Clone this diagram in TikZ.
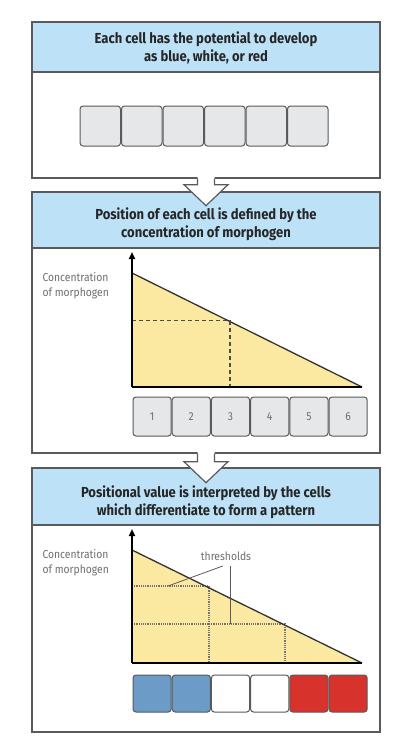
\documentclass[tikz,border=0pt]{standalone}
\usepackage{fontspec}
\setmainfont{Fira Sans}
\newfontfamily\titlefont[FakeStretch=0.9]{Fira Sans}
\newfontfamily\notefont[FakeStretch=0.9]{Fira Sans}
\usetikzlibrary{arrows.meta, positioning, calc}
\definecolor{PanelGray}{HTML}{5A5A5A}
\definecolor{HeadBlue}{HTML}{BDE1F6}
\definecolor{GradYellow}{HTML}{FBE9A2}
\definecolor{CellGray}{HTML}{E6E7E9}
\definecolor{CellBlue}{HTML}{6B9BC6}
\definecolor{CellRed}{HTML}{D8322C}
\definecolor{TextGray}{HTML}{6E6E6E}
\tikzset{
    % Panel styles
    panelbox/.style={
        rectangle,
        draw=PanelGray,
        fill=white,
        line width=1.4pt,
        minimum width=348,
        inner sep=0pt
    },
    header/.style={
        rectangle,
        draw=PanelGray,
        fill=HeadBlue,
        line width=1.4pt,
        minimum width=348,
        inner sep=0pt
    },
    title/.style={
        align=center,
        text=black!85,
        font=\titlefont\bfseries\fontsize{14.5}{18}\selectfont
    },
    % Cell styles
    cellbox/.style={
        rectangle,
        rounded corners=3pt,
        draw=PanelGray,
        fill=CellGray,
        line width=1pt,
        inner sep=0pt,
        text=TextGray,
        font=\notefont\fontsize{11.5}{12}\selectfont
    },
    axislabel/.style={
        align=left,
        text=TextGray,
        font=\notefont\fontsize{11.5}{15}\selectfont
    },
    % Line styles
    axis/.style={
        line width=1.8pt,
        draw=black
    },
    slope/.style={
        line width=1.3pt,
        draw=black!80
    },
    guide/.style={
        line width=1.1pt,
        draw=black!70,
        dash pattern=on 4pt off 3pt
    },
    dotguide/.style={
        line width=1.1pt,
        draw=black!55,
        dash pattern=on 1.2pt off 1pt
    },
    leader/.style={
        line width=0.8pt,
        draw=PanelGray
    },
    blockarrow/.style={
        line width=1.2pt,
        draw=PanelGray,
        line join=miter
    }
}

\begin{document}
\begin{tikzpicture}[x=1pt, y=-1pt]
    \useasboundingbox (0,0) rectangle (400,750);

    % Panel 1
    \node[panelbox, minimum height=106] (b1) at (206,125) {};
    \node[header, minimum height=50] (h1) at (206,47) {};
    \node[title] (t1) at (206,48) {Each cell has the potential to develop\\as blue, white, or red};

    \node[cellbox, fill=CellGray, minimum width=40.5, minimum height=40] (a1) at (100.25,126) {};
    \node[cellbox, minimum width=40.5, minimum height=40, right=0pt of a1] (a2) {};
    \node[cellbox, minimum width=40.5, minimum height=40, right=0pt of a2] (a3) {};
    \node[cellbox, minimum width=40.5, minimum height=40, right=0pt of a3] (a4) {};
    \node[cellbox, minimum width=40.5, minimum height=40, right=0pt of a4] (a5) {};
    \node[cellbox, minimum width=40.5, minimum height=40, right=0pt of a5] (a6) {};

    % Panel 2
    \node[panelbox, minimum height=205] (b2) at (206,350.5) {};
    \node[header, minimum height=56] (h2) at (206,220) {};

    % Arrow 1 -> 2
    \fill[white] ($(b1.south)+(-8.5,-2)$) -- ($(b1.south)+(-8.5,6)$) -- ($(b1.south)+(-22,6)$)
        -- ($(b1.south)+(0,27)$) -- ($(b1.south)+(22,6)$) -- ($(b1.south)+(8.5,6)$) -- ($(b1.south)+(8.5,-2)$) -- cycle;
    \draw[blockarrow] ($(b1.south)+(-8.5,0)$) -- ($(b1.south)+(-8.5,6)$) -- ($(b1.south)+(-22,6)$)
        -- ($(b1.south)+(0,27)$) -- ($(b1.south)+(22,6)$) -- ($(b1.south)+(8.5,6)$) -- ($(b1.south)+(8.5,0)$);

    \node[title] (t2) at (206,224) {Position of each cell is defined by the\\concentration of morphogen};

    % Gradient 2
    \coordinate (o2) at (132,387);
    \fill[GradYellow] (o2) -- (132,273) -- (362,387) -- cycle;
    \draw[slope] (132,273) -- (362,387);
    \draw[guide] (132,320.5) -- (230,320.5) -- (230,387);
    \draw[axis] (362,387) -- (o2);
    \draw[axis, -{Triangle[width=6pt,length=7pt]}] (o2) -- (132,252);
    \node[axislabel, anchor=north west] (y2) at (39,269) {Concentration\\of morphogen};

    \node[cellbox, minimum width=38.2, minimum height=39] (c1) at (152.1,416.5) {1};
    \node[cellbox, minimum width=38.2, minimum height=39, right=0pt of c1] (c2) {2};
    \node[cellbox, minimum width=38.2, minimum height=39, right=0pt of c2] (c3) {3};
    \node[cellbox, minimum width=38.2, minimum height=39, right=0pt of c3] (c4) {4};
    \node[cellbox, minimum width=38.2, minimum height=39, right=0pt of c4] (c5) {5};
    \node[cellbox, minimum width=38.2, minimum height=39, right=0pt of c5] (c6) {6};

    % Panel 3
    \node[panelbox, minimum height=207] (b3) at (206,628.5) {};
    \node[header, minimum height=57] (h3) at (206,496.5) {};

    % Arrow 2 -> 3
    \fill[white] ($(b2.south)+(-8.5,-2)$) -- ($(b2.south)+(-8.5,8)$) -- ($(b2.south)+(-22,8)$)
        -- ($(b2.south)+(0,29)$) -- ($(b2.south)+(22,8)$) -- ($(b2.south)+(8.5,8)$) -- ($(b2.south)+(8.5,-2)$) -- cycle;
    \draw[blockarrow] ($(b2.south)+(-8.5,0)$) -- ($(b2.south)+(-8.5,8)$) -- ($(b2.south)+(-22,8)$)
        -- ($(b2.south)+(0,29)$) -- ($(b2.south)+(22,8)$) -- ($(b2.south)+(8.5,8)$) -- ($(b2.south)+(8.5,0)$);

    \node[title] (t3) at (206,502) {Positional value is interpreted by the cells\\which differentiate to form a pattern};

    % Gradient 3
    \coordinate (o3) at (132,663);
    \fill[GradYellow] (o3) -- (132,550) -- (362,663) -- cycle;
    \draw[dotguide] (132,586) -- (209,586) -- (209,663);
    \draw[dotguide] (132,624) -- (285,624) -- (285,663);
    \draw[slope] (132,550) -- (362,663);
    \draw[axis] (362,663) -- (o3);
    \draw[axis, -{Triangle[width=6pt,length=7pt]}] (o3) -- (132,529);
    \node[axislabel, anchor=north west] (y3) at (39,546) {Concentration\\of morphogen};

    % Thresholds
    \node[axislabel, font=\notefont\fontsize{11.5}{12}\selectfont] (thr) at (226,556) {thresholds};
    \coordinate (th1) at (168,586);
    \coordinate (th2) at (230,624);
    \draw[leader] (th1) -- ($(thr.south)+(-3,2)$);
    \draw[leader] ($(thr.south)+(4,2)$) -- (th2);

    \node[cellbox, fill=CellBlue, minimum width=38.2, minimum height=37] (d1) at (152.1,693.5) {};
    \node[cellbox, fill=CellBlue, minimum width=38.2, minimum height=37, right=0pt of d1] (d2) {};
    \node[cellbox, fill=white, minimum width=38.2, minimum height=37, right=0pt of d2] (d3) {};
    \node[cellbox, fill=white, minimum width=38.2, minimum height=37, right=0pt of d3] (d4) {};
    \node[cellbox, fill=CellRed, minimum width=38.2, minimum height=37, right=0pt of d4] (d5) {};
    \node[cellbox, fill=CellRed, minimum width=38.2, minimum height=37, right=0pt of d5] (d6) {};
\end{tikzpicture}
\end{document}
